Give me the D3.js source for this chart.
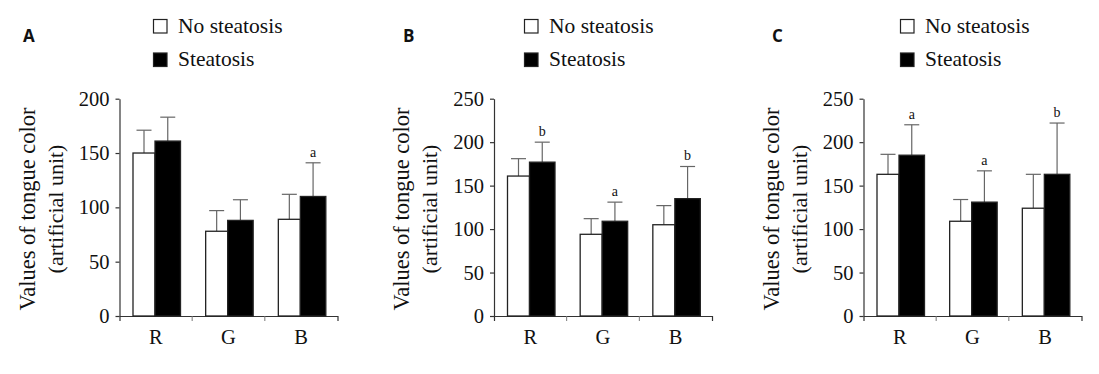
<!DOCTYPE html>
<html lang="en">
<head>
<meta charset="UTF-8">
<script src="https://cdnjs.cloudflare.com/ajax/libs/d3/7.8.5/d3.min.js"></script>
<title>Tongue color</title>
<style>
	body { margin: 0; background: #fff; }
	svg { display: block; }
	text { font-family: "Liberation Serif", "Times New Roman", serif; fill: #111; }
	.panel-label { font-family: "Open Sans", "DejaVu Sans", sans-serif; font-weight: bold; }
</style>
</head>
<body>
<div id="draw-here"></div>
<script>
	/* data */
	var categories = ["R", "G", "B"];
	var seriesNames = ["No steatosis", "Steatosis"];
	var panelNames = ["A", "B", "C"];
	var yMax = [200, 250, 250];
	var yTicks = [[0, 50, 100, 150, 200], [0, 50, 100, 150, 200, 250], [0, 50, 100, 150, 200, 250]];

	/* means: [panel][category][series] */
	var means = [
		[[150, 161], [78, 88], [89, 110]],
		[[161, 177], [94, 109], [105, 135]],
		[[163, 185], [109, 131], [124, 163]]
	];
	/* mean + SD (top of error bar) */
	var upper = [
		[[171, 183], [97, 107], [112, 141]],
		[[181, 200], [112, 131], [127, 172]],
		[[186, 220], [134, 167], [163, 222]]
	];
	/* significance letters over the steatosis bar */
	var marks = [
		["", "", "a"],
		["b", "a", "b"],
		["a", "a", "b"]
	];

	/* layout */
	var W = 1099, H = 374;
	var axisLeft = [119.5, 494, 863.5];
	var legendLeft = [153, 524, 900];
	var labelLeft = [23, 403, 772];
	var plotW = 218, yTop = 98.7, yBottom = 316;
	var shift = 1.75; /* black bars are a little wider than white ones */

	var svg = d3.select("#draw-here").append("svg")
		.attr("width", W).attr("height", H);

	panelNames.forEach(function(name, p) {
		var g = svg.append("g");
		var x0 = d3.scaleBand().domain(categories).range([axisLeft[p], axisLeft[p] + plotW]);
		var x1 = d3.scaleBand().domain(seriesNames).range([13.5, 61]);
		var y = d3.scaleLinear().domain([0, yMax[p]]).range([yBottom, yTop]);

		function barX(d) { return x0(d.c) + x1(d.s) - (d.si ? shift : 0); }
		function barW(d) { return x1.bandwidth() + (d.si ? shift : -shift); }
		function barMid(d) { return barX(d) + barW(d) / 2; }

		/* panel letter */
		g.append("text").attr("class", "panel-label")
			.attr("x", labelLeft[p]).attr("y", 42)
			.attr("font-size", 17).text(name);

		/* legend */
		seriesNames.forEach(function(s, i) {
			var ly = 19 + i * 33.5;
			g.append("rect")
				.attr("x", legendLeft[p] + 0.5).attr("y", ly + 0.5)
				.attr("width", 13.5).attr("height", 13.5)
				.attr("fill", i ? "#000" : "#fff")
				.attr("stroke", "#222").attr("stroke-width", 1.2);
			g.append("text")
				.attr("x", legendLeft[p] + 25).attr("y", ly + 13.5)
				.attr("font-size", 21.5).text(s);
		});

		/* y axis */
		var yAxis = g.append("g")
			.attr("transform", "translate(" + axisLeft[p] + ",0)")
			.call(d3.axisLeft(y).tickValues(yTicks[p]).tickSize(4).tickSizeOuter(0).tickPadding(6));
		yAxis.attr("font-family", null);
		yAxis.selectAll("text").attr("font-size", 20.5).attr("fill", "#111");
		yAxis.selectAll("path, line").attr("stroke", "#333").attr("stroke-width", 1.2);

		/* x axis */
		var xAxis = g.append("g")
			.attr("transform", "translate(0," + yBottom + ")")
			.call(d3.axisBottom(x0).tickSize(0).tickSizeOuter(5).tickPadding(13));
		xAxis.attr("font-family", null);
		xAxis.selectAll("text").attr("font-size", 20.5).attr("fill", "#111");
		xAxis.selectAll("path").attr("stroke", "#333").attr("stroke-width", 1.2);
		xAxis.selectAll(".bnd").data(categories.slice(1)).enter().append("line")
			.attr("x1", function(d) { return x0(d); }).attr("x2", function(d) { return x0(d); })
			.attr("y1", 0).attr("y2", 5)
			.attr("stroke", "#777").attr("stroke-width", 1);

		/* y title */
		var title = g.append("text")
			.attr("transform", "translate(" + (axisLeft[p] - 85) + "," + 209 + ") rotate(-90)")
			.attr("text-anchor", "middle").attr("font-size", 22.5);
		title.append("tspan").attr("x", 0).attr("dy", 0).text("Values of tongue color");
		title.append("tspan").attr("x", 0).attr("dy", 28).attr("font-size", 22).text("(artificial unit)");

		/* bars */
		var rows = [];
		categories.forEach(function(c, ci) {
			seriesNames.forEach(function(s, si) {
				rows.push({ c: c, s: s, si: si, v: means[p][ci][si], up: upper[p][ci][si], m: si ? marks[p][ci] : "" });
			});
		});

		var bar = g.selectAll(".bar").data(rows).enter().append("g");

		/* error whisker first so the bar hides its lower half */
		bar.append("line")
			.attr("x1", barMid).attr("x2", barMid)
			.attr("y1", function(d) { return y(d.v); })
			.attr("y2", function(d) { return y(d.up); })
			.attr("stroke", "#666").attr("stroke-width", 1.2);
		bar.append("line")
			.attr("x1", function(d) { return barMid(d) - 7.5; })
			.attr("x2", function(d) { return barMid(d) + 7.5; })
			.attr("y1", function(d) { return y(d.up); })
			.attr("y2", function(d) { return y(d.up); })
			.attr("stroke", "#666").attr("stroke-width", 1.2);

		bar.append("rect")
			.attr("x", barX)
			.attr("y", function(d) { return y(d.v); })
			.attr("width", barW)
			.attr("height", function(d) { return yBottom - y(d.v); })
			.attr("fill", function(d) { return d.si ? "#000" : "#fff"; })
			.attr("stroke", "#222").attr("stroke-width", 1.3);

		bar.append("text")
			.attr("x", barMid)
			.attr("y", function(d) { return y(d.up) - 6; })
			.attr("text-anchor", "middle").attr("font-size", 14)
			.text(function(d) { return d.m; });
	});
</script>
</body>
</html>
